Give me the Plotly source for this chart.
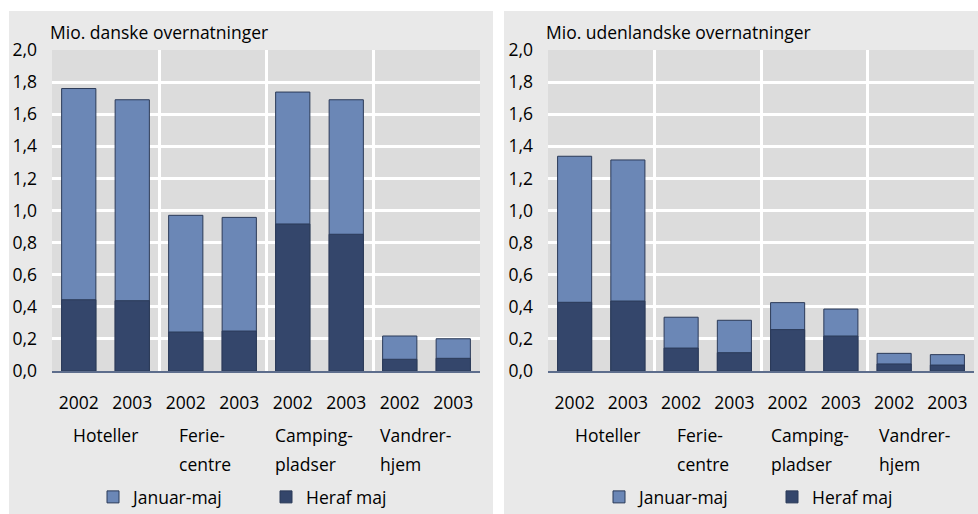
import plotly.graph_objects as go

# ---- data ----
years = ["2002", "2003", "2002", "2003", "2002", "2003", "2002", "2003"]
groups = ["Hoteller", "Ferie-<br>centre", "Camping-<br>pladser", "Vandrer-<br>hjem"]
series_names = ["Januar-maj", "Heraf maj"]
y_ticks = [0.0, 0.2, 0.4, 0.6, 0.8, 1.0, 1.2, 1.4, 1.6, 1.8, 2.0]

danske_jan_maj = [1.76, 1.69, 0.97, 0.957, 1.738, 1.69, 0.218, 0.201]
danske_maj = [0.444, 0.438, 0.243, 0.249, 0.916, 0.852, 0.073, 0.079]
udenl_jan_maj = [1.338, 1.315, 0.335, 0.316, 0.426, 0.386, 0.110, 0.102]
udenl_maj = [0.428, 0.436, 0.143, 0.114, 0.258, 0.218, 0.044, 0.037]

titles = ["Mio. danske overnatninger", "Mio. udenlandske overnatninger"]

# ---- style ----
W, H = 978, 514
FONT = "Open Sans"
FS = 17.5
LIGHT = "#6b87b6"
DARK = "#34466b"
EDGE = "#2b3a58"
PANEL = "#e9e9e9"
PLOTBG = "#dcdcdc"

xpos = list(range(len(years)))

fig = go.Figure()

panels = [
    dict(x0=9, x1=493, px0=52, px1=480, data=(danske_jan_maj, danske_maj),
         glabel=[0.5, 1.84, 3.63, 5.59], ganchor=["center", "left", "left", "left"], legx=113),
    dict(x0=504, x1=978, px0=548, px1=974, data=(udenl_jan_maj, udenl_maj),
         glabel=[0.62, 1.885, 3.65, 5.68], ganchor=["center", "left", "left", "left"], legx=619),
]

y_top_px, y_zero_px = 50, 371
ydom = [(H - y_zero_px) / H, (H - y_top_px) / H]
line_y_px = [435, 464]

for i, p in enumerate(panels):
    ax = "" if i == 0 else str(i + 1)
    tot, maj = p["data"]
    leg = "legend" if i == 0 else "legend2"
    fig.add_trace(go.Bar(x=xpos, y=tot, name=series_names[0], marker=dict(color=LIGHT, line=dict(color=EDGE, width=1)),
                         width=0.64, xaxis="x" + ax, yaxis="y" + ax, legend=leg))
    fig.add_trace(go.Bar(x=xpos, y=maj, name=series_names[1], marker=dict(color=DARK, line=dict(color=EDGE, width=1)),
                         width=0.64, xaxis="x" + ax, yaxis="y" + ax, legend=leg))
    # panel background
    fig.add_shape(type="rect", xref="paper", yref="paper", x0=p["x0"] / W, x1=p["x1"] / W,
                  y0=0, y1=(H - 11) / H, fillcolor=PANEL, line=dict(width=0), layer="below")
    # plot area background
    fig.add_shape(type="rect", xref="paper", yref="paper", x0=p["px0"] / W, x1=p["px1"] / W,
                  y0=ydom[0], y1=ydom[1], fillcolor=PLOTBG, line=dict(width=0), layer="below")
    # title
    fig.add_annotation(text=titles[i], xref="paper", yref="paper", x=(p["px0"] - 4) / W, y=(H - 32) / H,
                       xanchor="left", yanchor="middle", showarrow=False, font=dict(size=FS, color="#000"))
    # group labels (one annotation per text line)
    for g, gx, anc in zip(groups, p["glabel"], p["ganchor"]):
        for k, line in enumerate(g.split("<br>")):
            fig.add_annotation(text=line, xref="x" + ax, yref="paper", x=gx, y=(H - line_y_px[k]) / H,
                               xanchor=anc, yanchor="middle", align="left", showarrow=False,
                               font=dict(size=FS, color="#000"))

    xa = dict(domain=[p["px0"] / W, p["px1"] / W], range=[-0.5, 7.5], tickmode="array",
              tickvals=xpos, ticktext=years, showgrid=False, showline=True, linecolor="#5d6d8c", linewidth=1.5,
              ticks="", ticklabelstandoff=15, tickfont=dict(size=FS, color="#000"), anchor="y" + ax,
              minor=dict(tickmode="array", tickvals=[-0.5, 1.5, 3.5, 5.5, 7.5], showgrid=True,
                         gridcolor="white", gridwidth=3, ticks=""), zeroline=False, fixedrange=True,
              automargin=False)
    ya = dict(domain=ydom, range=[0, 2.0], tickmode="array", tickvals=y_ticks, tickformat=".1f",
              showgrid=True, gridcolor="white", gridwidth=3, zeroline=False, showline=False,
              ticks="", ticklabelstandoff=14, tickfont=dict(size=FS, color="#000"), anchor="x" + ax,
              automargin=False, fixedrange=True)
    fig.layout["xaxis" + ax] = xa
    fig.layout["yaxis" + ax] = ya

legend_common = dict(orientation="h", xanchor="left", yanchor="middle", y=(H - 497) / H,
                     bgcolor="rgba(0,0,0,0)", font=dict(size=FS, color="#000"),
                     entrywidth=128, entrywidthmode="pixels", itemclick=False, itemdoubleclick=False)
fig.update_layout(
    width=W, height=H, margin=dict(l=0, r=0, t=0, b=0, autoexpand=False),
    paper_bgcolor="white", plot_bgcolor="rgba(0,0,0,0)",
    font=dict(family=FONT, size=FS, color="#000"),
    barmode="overlay", separators=",.",
    legend=dict(x=(panels[0]["legx"] - 20) / W, **legend_common),
    legend2=dict(x=(panels[1]["legx"] - 20) / W, **legend_common),
)

fig.write_html("out.html", config={"displayModeBar": False},
               post_script="document.body.style.margin='0';")
